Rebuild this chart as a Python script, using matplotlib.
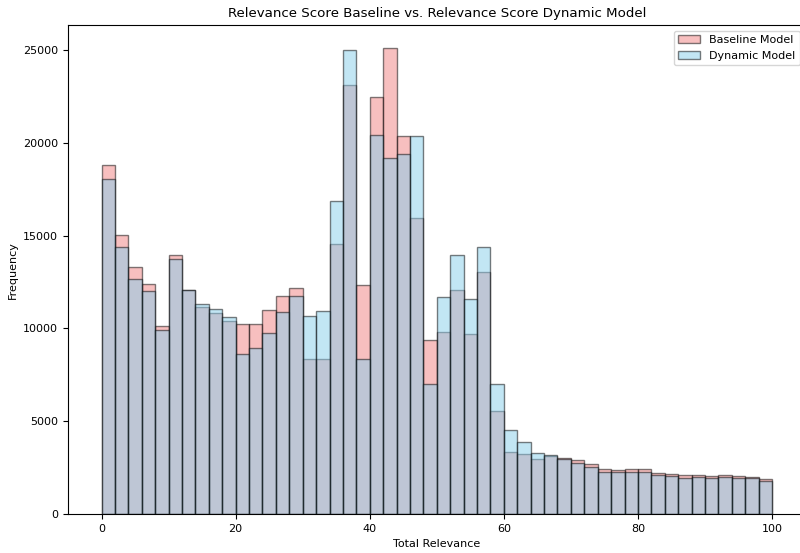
import numpy as np
import matplotlib.pyplot as plt

# bin edges of the histogram (width 2, 0..100)
bin_edges = np.arange(0, 102, 2)

# counts per bin
baseline_counts = [18830, 15040, 13300, 12420, 10120, 13960, 12080, 11130, 10810, 10380,
                   10250, 10215, 10970, 11760, 12200, 8330, 8370, 14550, 23130, 12350,
                   22450, 25090, 20390, 15970, 9390, 9790, 12080, 9680, 13030, 5540,
                   3320, 3210, 2990, 3140, 3030, 2900, 2690, 2400, 2370, 2420,
                   2420, 2220, 2170, 2100, 2090, 2060, 2090, 2030, 2010, 1900]
dynamic_counts = [18030, 14390, 12670, 12030, 9930, 13750, 12080, 11310, 11060, 10630,
                  8640, 8940, 9770, 10910, 11770, 10660, 10930, 16860, 24980, 8370,
                  20450, 19180, 19390, 20360, 6990, 11690, 13980, 11580, 14390, 7010,
                  4520, 3890, 3280, 3200, 2940, 2760, 2550, 2260, 2260, 2280,
                  2280, 2080, 2060, 1950, 1970, 1960, 1970, 1920, 1920, 1760]

centers = (bin_edges[:-1] + bin_edges[1:]) / 2

plt.rcParams['font.size'] = 8.0

fig = plt.figure(figsize=(8, 5.53), dpi=100)
ax = fig.add_axes([0.085, 0.0705, 0.922, 0.884])

ax.hist(centers, bins=bin_edges, weights=baseline_counts, color='lightcoral',
        alpha=0.5, edgecolor='black', label='Baseline Model')
ax.hist(centers, bins=bin_edges, weights=dynamic_counts, color='skyblue',
        alpha=0.5, edgecolor='black', label='Dynamic Model')

ax.set_title('Relevance Score Baseline vs. Relevance Score Dynamic Model', fontsize=9.6)
ax.set_xlabel('Total Relevance')
ax.set_ylabel('Frequency')
ax.set_xticks([0, 20, 40, 60, 80, 100])
ax.legend(loc='upper right')

fig.savefig('out.png', dpi=100)
